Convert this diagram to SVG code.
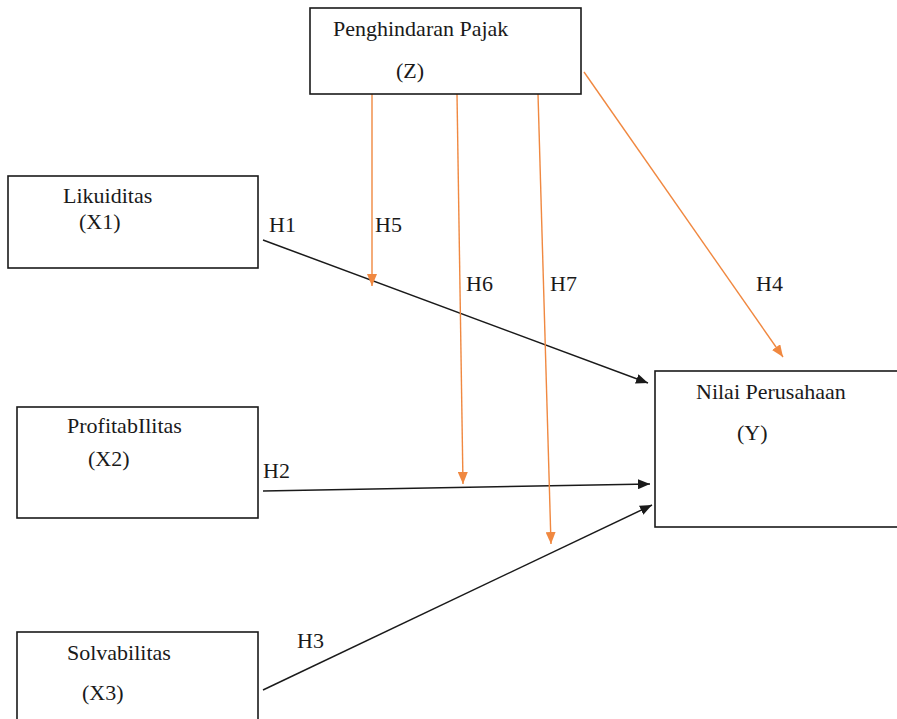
<svg xmlns="http://www.w3.org/2000/svg" width="897" height="719" viewBox="0 0 897 719">
<defs>
<style>
.box{fill:#fff;stroke:#1a1a1a;stroke-width:1.6}
.t{font-family:"Liberation Serif","Times New Roman",serif;font-size:22px;fill:#1a1a1a}
.blk{stroke:#1a1a1a;stroke-width:1.5;fill:none}
.org{stroke:#F08840;stroke-width:1.4;fill:none}
</style>
<marker id="ab" markerWidth="12" markerHeight="10" refX="12" refY="5" orient="auto" markerUnits="userSpaceOnUse"><path d="M0,0 L12,5 L0,10 Z" fill="#1a1a1a"/></marker>
<marker id="ao" markerWidth="12" markerHeight="10" refX="12" refY="5" orient="auto" markerUnits="userSpaceOnUse"><path d="M0,0 L12,5 L0,10 Z" fill="#F08840"/></marker>
</defs>
<rect width="897" height="719" fill="#fff"/>
<g id="connectors">
<line class="blk" x1="263" y1="240" x2="648" y2="383" marker-end="url(#ab)"/>
<line class="blk" x1="263" y1="491" x2="650" y2="484" marker-end="url(#ab)"/>
<line class="blk" x1="263" y1="690" x2="652" y2="505" marker-end="url(#ab)"/>
<line class="org" x1="372" y1="94" x2="372" y2="286" marker-end="url(#ao)"/>
<line class="org" x1="457" y1="94" x2="463" y2="484" marker-end="url(#ao)"/>
<line class="org" x1="538" y1="94" x2="551" y2="544" marker-end="url(#ao)"/>
<line class="org" x1="584" y1="72" x2="783" y2="357" marker-end="url(#ao)"/>
</g>
<g id="labels">
<text class="t" x="269" y="232">H1</text>
<text class="t" x="375" y="232">H5</text>
<text class="t" x="466" y="291">H6</text>
<text class="t" x="550" y="291">H7</text>
<text class="t" x="756" y="291">H4</text>
<text class="t" x="263" y="478">H2</text>
<text class="t" x="297" y="648">H3</text>
</g>
<g id="Z">
<rect class="box" x="310" y="8" width="271" height="86"/>
<text class="t" x="333" y="36">Penghindaran Pajak</text>
<text class="t" x="396" y="78">(Z)</text>
</g>
<g id="X1">
<rect class="box" x="8" y="176" width="250" height="92"/>
<text class="t" x="63" y="203">Likuiditas</text>
<text class="t" x="79" y="229">(X1)</text>
</g>
<g id="X2">
<rect class="box" x="17" y="407" width="241" height="111"/>
<text class="t" x="67" y="433">ProfitabIlitas</text>
<text class="t" x="88" y="466">(X2)</text>
</g>
<g id="X3">
<rect class="box" x="17" y="632" width="241" height="100"/>
<text class="t" x="67" y="660">Solvabilitas</text>
<text class="t" x="82" y="700">(X3)</text>
</g>
<g id="Y">
<rect class="box" x="655" y="371" width="250" height="156"/>
<text class="t" x="696" y="399">Nilai Perusahaan</text>
<text class="t" x="737" y="440">(Y)</text>
</g>
</svg>
